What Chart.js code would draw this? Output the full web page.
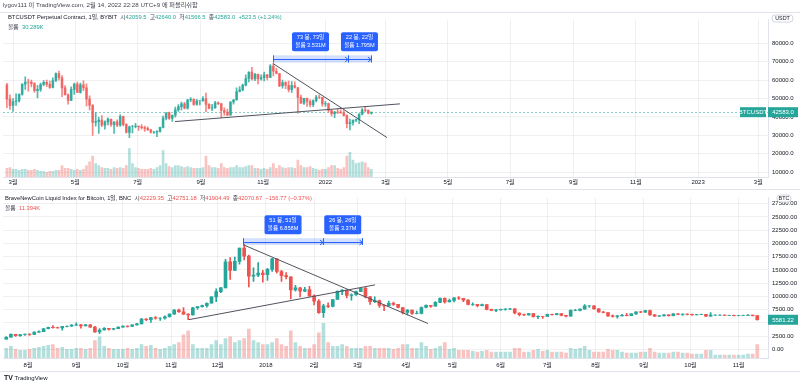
<!DOCTYPE html>
<html><head><meta charset="utf-8">
<script src="https://cdn.jsdelivr.net/npm/chart.js@4.4.0/dist/chart.umd.min.js"></script>
<style>
body{margin:0;background:#fff;width:800px;height:384px;overflow:hidden;position:relative;font-family:"Liberation Sans","Noto Sans CJK KR",sans-serif;}
canvas{position:absolute;left:0;}
.t{position:absolute;white-space:nowrap;font-size:5.8px;color:#131722;line-height:8px;}
.g{color:#434651}.up{color:#26a69a}.dn{color:#ef5350}
.hl{position:absolute;left:0;width:800px;height:1px;background:#e0e3eb;}
</style></head><body>
<canvas id="c1" width="800" height="178" style="top:12px"></canvas>
<canvas id="c2" width="800" height="182" style="top:190px"></canvas>
<div class="hl" style="top:12px"></div>
<div class="hl" style="top:189px"></div>
<div class="hl" style="top:371px"></div>
<div class="t g" style="left:3px;top:1px;font-size:6.2px">lygov111 이 TradingView.com, 2월 14, 2022 22:28 UTC+9 에 퍼블리쉬함</div>
<div class="t" style="left:8px;top:13px">BTCUSDT Perpetual Contract, 1일, BYBIT&nbsp; <span class="g">시</span><span class="up">42059.5</span>&nbsp; <span class="g">고</span><span class="up">42640.0</span>&nbsp; <span class="g">저</span><span class="up">41566.5</span>&nbsp; <span class="g">종</span><span class="up">42583.0</span>&nbsp; <span class="up">+523.5 (+1.24%)</span></div>
<div class="t" style="left:8px;top:23px"><span class="g">볼륨</span>&nbsp; <span class="up">30.289K</span></div>
<div class="t" style="left:5px;top:194px">BraveNewCoin Liquid Index for Bitcoin, 1일, BNC&nbsp; <span class="g">시</span><span class="dn">42229.35</span>&nbsp; <span class="g">고</span><span class="dn">42751.18</span>&nbsp; <span class="g">저</span><span class="dn">41904.49</span>&nbsp; <span class="g">종</span><span class="dn">42070.67</span>&nbsp; <span class="dn">−156.77 (−0.37%)</span></div>
<div class="t" style="left:5px;top:204px"><span class="g">볼륨</span>&nbsp; <span class="dn">11.394K</span></div>
<div class="t" style="left:4px;top:374px;font-size:6px"><b style="font-size:7px">TV</b> TradingView</div>
<script>
// ---------- top pane: BTCUSDT 3-day candles from 2021-02-22 (day 0 = 2021-03-01) ----------
const topOpen=[57500,49700,46300,48400,48800,52400,57800,59000,58900,58100,
54300,55000,57600,58800,57700,56000,59800,63500,61300,55800,
52000,49000,55000,57800,53300,57400,55800,49700,46400,37000,
37500,38300,35600,37300,38800,35800,37300,35500,40200,35800,
31600,34700,34700,35000,34700,34200,33800,33000,31800,31800,
32100,34300,39400,42200,39200,40900,43800,45600,47100,44700,
49300,49500,46800,48800,48800,49900,46800,44800,44900,47700,
47200,43500,42700,41000,48100,49200,53800,54700,57300,60900,
64300,60700,63100,60600,61300,62900,61500,67600,64800,63600,
56900,58600,57200,54800,57000,56000,50600,47500,50100,48400,
46700,48900,50800,50700,47100,47300,43500,41800,42700,42600,
42200,40700,36300,36900,38200,38700,41500,43800,43600,42059.5];
const topHigh=[58300,52000,50000,52600,52400,58000,61800,60600,60000,58600,
57200,58400,59800,60000,59500,61200,64000,64900,62500,57000,
52500,56300,58400,59000,58400,59600,58000,51500,46600,42400,
39900,40800,37900,39500,38800,37300,38400,41300,40500,36400,
35000,35500,36600,35000,35900,35100,34600,33300,32200,32600,
34500,40500,42300,42600,41200,45300,46700,48100,48000,49400,
50500,49800,49600,48900,51000,52900,47300,46800,48500,48200,
47300,45000,44300,48400,49500,55800,56500,57800,62900,64500,
67000,63700,63300,62900,64300,63100,68500,69000,66400,63600,
60000,59200,59500,59200,59100,56000,51900,50100,50200,49400,
49300,51800,52000,50700,48500,47500,43700,43000,44400,43800,
43500,41100,38900,38500,38800,41700,44500,45800,43900,42640];
const topLow=[45000,44100,43000,46300,48000,51800,54900,54000,56300,53300,
50400,53900,57000,56500,55500,55800,59200,60000,51000,52000,
47000,48800,52300,53200,52900,54300,46000,43800,30000,35000,
31100,34700,33400,35700,34800,31000,34700,34800,35100,31300,
28800,31300,34100,32700,33300,32100,32700,31200,31100,29300,
31700,34000,38400,38700,37600,39900,43000,43800,44400,44200,
48300,46300,46400,46500,48400,42800,44400,43400,44700,46700,
39600,40800,40800,40900,47000,49100,53600,54200,56900,59000,
60000,59700,58000,60000,59500,60100,61300,62300,63400,56500,
55600,55300,53600,53300,55600,42000,47400,46800,45700,45500,
45600,48100,49900,45800,45700,42600,40600,39600,41800,42000,
40600,34000,32900,35600,37400,36300,41100,42700,41700,41566.5];
const topClose=[49700,46300,48400,48800,52400,57800,59000,58900,58100,54300,
55000,57600,58800,57700,56000,59800,63500,61300,55800,52000,
49000,55000,57800,53300,57400,55800,49700,46400,37000,37500,
38300,35600,37300,38800,35800,37300,35500,40200,35800,31600,
34700,34700,35000,34700,34200,33800,33000,31800,31800,32100,
34300,39400,42200,39200,40900,43800,45600,47100,44700,49300,
49500,46800,48800,48800,49900,46800,44800,44900,47700,47200,
43500,42700,41000,48100,49200,53800,54700,57300,60900,64300,
60700,63100,60600,61300,62900,61500,67600,64800,63600,56900,
58600,57200,54800,57000,56000,50600,47500,50100,48400,46700,
48900,50800,50700,47100,47300,43500,41800,42700,42600,42200,
40700,36300,36900,38200,38700,41500,43800,43600,42100,42583];
const topVolumeK=[40,44,35,35,31,35,35,31,31,35,31,26,26,
22,26,26,31,31,53,40,40,35,31,
35,31,35,53,70,97,62,53,44,40,
40,35,44,40,44,40,53,132,62,44,
40,35,35,35,40,35,44,53,123,62,
48,44,53,53,48,44,48,44,40,40,
40,44,97,53,44,44,40,62,44,40,
44,44,53,44,44,48,53,53,40,40,
35,40,35,44,62,40,53,44,40,44,
44,40,79,53,44,44,48,40,35,31,
35,35,44,53,53,40,35,44,97,114,
79,62,66,70,66,44,35];
const topFirstDay=-6, candleStepDays=3;
const topTickDays=[0,61,122,184,245,306,365,426,487,549,610,671,730];
const topTickLabels=["3월","5월","7월","9월","11월","2022","3월","5월","7월","9월","11월","2023","3월"];
const topPriceTicks=[10000,20000,30000,40000,50000,60000,70000,80000];
const topTrendDown=[{x:254.7,y:69000},{x:366.3,y:28800}];
const topTrendUp=[{x:158.7,y:37500},{x:379,y:47100}];
const topRange={from:254.7,mid:328.1,to:350.6,top:73440,bottom:69530,
  labels:[["73 봉, 73일","볼륨 3.531M"],["22 봉, 22일","볼륨 1.795M"]]};

// ---------- bottom pane: BLX 3-day candles from 2017-07-17 (day 0 = 2017-08-01) ----------
const blxOpen=[1930,2270,2830,2560,2790,2870,2790,3230,3350,3880,
4170,4100,4030,4330,4350,4580,4600,4400,4600,4200,
3300,3650,3950,3800,3920,4180,4400,4300,4600,4800,
5700,5600,6000,5900,5900,6150,6650,7400,7100,6650,
6500,7850,8050,8250,8700,9900,10900,11600,16500,14900,
16600,19100,17600,13800,14000,14400,14100,15100,17100,14700,
13900,13700,11200,11600,11000,11300,10100,9100,6900,8200,
8100,9400,11000,11200,10200,10300,10900,11500,9900,9000,
9200,8300,8200,8700,8500,7900,6950,7400,6800,6800,
7900,8300,8150,8850,9650,8950,9250,9700,9650,9300,
8500,8500,8250,8450,7550,7350,7450,7550,7600,7650,
6850,6550,6500,6750,6150,6250,6200,6600,6550,6750,
6400,6250,7350,7350,7600,8200,8200,7650,7050,6950,
6300,6200,6300,6400,6350,6700,7100,7000,7300,6500,
6250,6300,6500,6350,6700,6600,6650,6600,6500,6580,
6600,6250,6450,6450,6450,6420,6420,6330,6380,6400,
6450,6350];
const blxHigh=[2400,2900,2830,2800,2890,2900,3300,3500,3950,4200,
4480,4200,4350,4450,4650,4980,4700,4700,4650,4350,
3900,4100,3950,3950,4250,4420,4420,4600,4900,5850,
5800,6050,6200,5950,6300,6700,7500,7600,7880,6700,
7950,8100,8350,8800,9950,11400,11700,17000,17300,17400,
19100,19800,17800,15400,16400,14900,15300,17200,17100,14900,
14500,13700,12100,11700,11700,11900,10300,9400,8500,8800,
9400,11000,11300,11200,10500,11000,11500,11700,10000,9900,
9300,8400,9100,8900,8500,7900,7500,7400,7200,8000,
8400,8300,9000,9700,9700,9500,9750,9950,9650,9400,
8800,8500,8550,8450,7600,7550,7600,7700,7750,7700,
6900,6650,6800,6800,6300,6250,6650,6650,6800,6750,
6400,7450,7550,7650,8450,8250,8250,7700,7150,6950,
6500,6400,6600,6800,6750,7100,7150,7350,7400,6550,
6400,6550,6550,6750,6750,6700,6700,6650,6600,6650,
6600,6950,6500,6500,6500,6450,6450,6400,6450,6550,
6450,6400];
const blxLow=[1900,2250,2450,2450,2620,2620,2780,3200,3340,3850,
4000,3980,3600,4250,4300,4500,4000,4400,4150,3200,
2950,3600,3600,3650,3900,4180,4200,4300,4550,4800,
5400,5100,5700,5450,5700,6050,6650,6950,6600,5600,
6450,7600,7950,7950,8700,9000,10700,11600,13200,14900,
16100,16900,11800,12800,13700,12700,13000,14700,14400,12800,
13300,9500,11000,9900,10900,10000,8400,6800,6000,7850,
8000,9400,10300,9700,9300,10200,10900,9700,8500,8800,
7900,7300,8200,8300,7800,6700,6500,6600,6700,6700,
7800,7900,8150,8800,8700,8950,8950,9400,9000,8400,
8300,8000,8200,7450,7300,7100,7400,7400,7550,6700,
6300,6350,6450,6050,5800,5850,6200,6450,6500,6300,
6100,6250,7300,7250,7600,7900,7600,6950,6850,6200,
6050,5900,6300,6300,6350,6600,6900,6950,6400,6200,
6200,6300,6250,6300,6550,6400,6500,6450,6500,6550,
6150,6250,6400,6400,6400,6380,6300,6300,6330,6380,
6300,5500];
const blxClose=[2270,2830,2560,2790,2870,2790,3230,3350,3880,4170,
4100,4030,4330,4350,4580,4600,4400,4600,4200,3300,
3650,3950,3800,3920,4180,4400,4300,4600,4800,5700,
5600,6000,5900,5900,6150,6650,7400,7100,6650,6500,
7850,8050,8250,8700,9900,10900,11600,16500,14900,16600,
19100,17600,13800,14000,14400,14100,15100,17100,14700,13900,
13700,11200,11600,11000,11300,10100,9100,6900,8200,8100,
9400,11000,11200,10200,10300,10900,11500,9900,9000,9200,
8300,8200,8700,8500,7900,6950,7400,6800,6800,7900,
8300,8150,8850,9650,8950,9250,9700,9650,9300,8500,
8500,8250,8450,7550,7350,7450,7550,7600,7650,6850,
6550,6500,6750,6150,6250,6200,6600,6550,6750,6400,
6250,7350,7350,7600,8200,8200,7650,7050,6950,6300,
6200,6300,6400,6350,6700,7100,7000,7300,6500,6250,
6300,6500,6350,6700,6600,6650,6600,6500,6580,6600,
6250,6450,6450,6450,6420,6420,6330,6380,6400,6450,
6350,5581.22];
const blxVolumeK=[80,96,72,64,64,72,80,88,96,104,112,80,88,72,72,
80,80,72,80,144,176,96,80,72,72,
72,80,72,80,112,96,104,80,72,80,
96,112,128,192,224,112,80,80,80,112,
144,112,160,176,128,144,160,240,144,128,112,
112,128,160,112,96,224,128,96,80,80,112,
208,288,128,96,96,112,96,80,80,80,
96,96,80,80,80,80,72,80,112,112,
80,80,128,96,72,80,96,128,72,80,
64,64,64,56,48,56,64,48,48,48,
48,48,80,80,48,48,64,72,56,64,
48,48,48,40,80,72,80,96,64,48,
48,48,72,64,64,48,40,40,40,48,
48,80,48,40,40,40,48,48,40,40,
32,32,32,64,64,24,24,24,24,24,
24,24,32,32,112];
const blxFirstDay=-14;
const blxTickDays=[0,31,61,92,122,153,184,212,243,273,304,334,365,396,426,457];
const blxTickLabels=["8월","9월","10월","11월","12월","2018","2월","3월","4월","5월","6월","7월","8월","9월","10월","11월"];
const blxPriceTicks=[0,2500,5000,7500,10000,12500,15000,17500,20000,22500,25000,27500];
const blxTrendDown=[{x:138.3,y:19760},{x:257.2,y:4870}];
const blxTrendUp=[{x:103.5,y:5600},{x:223.2,y:12170}];
const blxRange={from:138.3,mid:189.7,to:215.1,top:20985,bottom:19700,
  labels:[["51 봉, 51일","볼륨 6.858M"],["26 봉, 26일","볼륨 3.37M"]]};

// ---------- rendering ----------
const FONT='"Liberation Sans","Noto Sans CJK KR",sans-serif';
Chart.defaults.font.family=FONT;
Chart.defaults.font.size=6;
Chart.defaults.color='#131722';
const GRID='rgba(42,46,57,0.07)';

function candles(O,H,L,C,V,first,step,upC,dnC,upV,dnV){
  const r={wick:[],body:[],vol:[],bc:[],vc:[]};
  for(let i=0;i<O.length;i++){
    const x=first+step*i, up=C[i]>=O[i];
    r.wick.push({x:x,y:[L[i],H[i]]});
    r.body.push({x:x,y:[O[i],C[i]]});
    r.vol.push({x:x,y:V[i]});
    r.bc.push(up?upC:dnC);
    r.vc.push(up?upV:dnV);
  }
  return r;
}
function rr(ctx,x,y,w,h,r){ctx.beginPath();ctx.moveTo(x+r,y);ctx.lineTo(x+w-r,y);ctx.quadraticCurveTo(x+w,y,x+w,y+r);ctx.lineTo(x+w,y+h-r);ctx.quadraticCurveTo(x+w,y+h,x+w-r,y+h);ctx.lineTo(x+r,y+h);ctx.quadraticCurveTo(x,y+h,x,y+h-r);ctx.lineTo(x,y+r);ctx.quadraticCurveTo(x,y,x+r,y);ctx.closePath();}
function tvPlugin(cfg){
  return {id:'tv'+cfg.id,
    beforeDatasetsDraw(chart){
      if(cfg.priceLine==null) return;
      const ctx=chart.ctx,a=chart.chartArea,y=Math.round(chart.scales.y.getPixelForValue(cfg.priceLine))+0.5;
      ctx.save();ctx.strokeStyle='rgba(38,166,154,0.55)';ctx.setLineDash([2,2]);ctx.lineWidth=1;
      ctx.beginPath();ctx.moveTo(a.left,y);ctx.lineTo(a.right,y);ctx.stroke();ctx.restore();
    },
    afterDraw(chart){
      const ctx=chart.ctx,xs=chart.scales.x,ys=chart.scales.y,a=chart.chartArea;
      ctx.save();
      // date range tool
      const R=cfg.range;
      const x1=xs.getPixelForValue(R.from),xm=xs.getPixelForValue(R.mid),x2=xs.getPixelForValue(R.to);
      const yT=ys.getPixelForValue(R.top),yB=ys.getPixelForValue(R.bottom),yc=Math.round((yT+yB)/2)+0.5;
      ctx.fillStyle='rgba(41,98,255,0.2)';ctx.fillRect(x1,yT,x2-x1,yB-yT);
      ctx.strokeStyle='#2962ff';ctx.lineWidth=1;
      ctx.beginPath();ctx.moveTo(x1,yc);ctx.lineTo(x2,yc);
      [x1,xm,x2].forEach(function(x){x=Math.round(x)+0.5;ctx.moveTo(x,yT);ctx.lineTo(x,yB);});
      [xm,x2].forEach(function(x){ctx.moveTo(x-3,yc-2.5);ctx.lineTo(x,yc);ctx.lineTo(x-3,yc+2.5);});
      ctx.stroke();
      const segs=[[x1,xm],[xm,x2]];
      ctx.font='5.6px '+FONT;ctx.textAlign='center';ctx.textBaseline='middle';
      segs.forEach(function(s,k){
        const cx=(s[0]+s[1])/2,w=37,h=19,by=yT-4-h;
        ctx.fillStyle='#2962ff';rr(ctx,cx-w/2,by,w,h,2);ctx.fill();
        ctx.fillStyle='#fff';ctx.fillText(R.labels[k][0],cx,by+5.5);ctx.fillText(R.labels[k][1],cx,by+13.5);
      });
      // last price labels
      const py=ys.getPixelForValue(cfg.lastPrice);
      ctx.font='6px '+FONT;
      ctx.fillStyle='#26a69a';ctx.fillRect(a.right,py-5,30,10);
      ctx.fillStyle='#fff';ctx.fillText(cfg.lastText,a.right+15,py+0.5);
      if(cfg.symbol){ctx.fillStyle='#26a69a';ctx.fillRect(a.right-28,py-5,26,10);ctx.fillStyle='#fff';ctx.fillText(cfg.symbol,a.right-15,py+0.5);}
      // currency pill
      const p=cfg.pill;
      ctx.fillStyle='#fff';ctx.strokeStyle='#d1d4dc';rr(ctx,p.x,p.y,p.w,7,3);ctx.fill();ctx.stroke();
      ctx.fillStyle='#131722';ctx.font='5.4px '+FONT;ctx.fillText(p.text,p.x+p.w/2,p.y+3.8);
      ctx.restore();
    }};
}
function makeChart(id,d,o){
  return new Chart(document.getElementById(id),{
    type:'bar',
    data:{datasets:[
      {type:'line',data:o.trendA,borderColor:'#50535e',borderWidth:1,pointRadius:0,order:0,yAxisID:'y'},
      {type:'line',data:o.trendB,borderColor:'#50535e',borderWidth:1,pointRadius:0,order:0,yAxisID:'y'},
      {type:'bar',data:d.body,backgroundColor:d.bc,barThickness:o.bodyW,grouped:false,order:1,yAxisID:'y'},
      {type:'bar',data:d.wick,backgroundColor:d.bc,barThickness:1,grouped:false,order:2,yAxisID:'y'},
      {type:'bar',data:d.vol,backgroundColor:d.vc,barThickness:o.volW,grouped:false,order:3,yAxisID:'v'}
    ]},
    options:{responsive:false,animation:false,devicePixelRatio:1,
      layout:{padding:{left:3,top:o.padTop,right:0,bottom:0}},
      plugins:{legend:{display:false},tooltip:{enabled:false}},
      scales:{
        x:{type:'linear',min:o.xmin,max:o.xmax,offset:false,
          grid:{color:GRID,drawTicks:false,offset:false},border:{color:'#e0e3eb'},
          ticks:{autoSkip:false,maxRotation:0,padding:o.xPad,color:'#131722',callback:function(v,i){return o.tickLabels[i];}},
          afterBuildTicks:function(s){s.ticks=o.tickDays.map(function(v){return {value:v};});},
          afterFit:function(s){s.height=o.xH;}},
        y:{position:'right',min:o.ymin,max:o.ymax,
          grid:{color:GRID,drawTicks:false},border:{color:'#e0e3eb'},
          ticks:{autoSkip:false,padding:4,color:'#131722',callback:function(v){return v.toFixed(o.dec);}},
          afterBuildTicks:function(s){s.ticks=o.priceTicks.map(function(v){return {value:v};});},
          afterFit:function(s){s.width=32;}},
        v:{axis:'y',position:'left',display:false,min:0,max:o.vmax}
      }},
    plugins:[tvPlugin(o.extra)]
  });
}
const dTop=candles(topOpen,topHigh,topLow,topClose,topVolumeK,topFirstDay,candleStepDays,
  'rgba(38,166,154,0.8)','rgba(239,83,80,0.7)','rgba(38,166,154,0.35)','rgba(239,83,80,0.35)');
makeChart('c1',dTop,{trendA:topTrendDown,trendB:topTrendUp,bodyW:2,volW:2,padTop:1,
  xmin:-9.8,xmax:739.5,xPad:2,xH:13,tickDays:topTickDays,tickLabels:topTickLabels,
  ymin:7394,ymax:92860,priceTicks:topPriceTicks,dec:1,vmax:730,
  extra:{id:1,priceLine:42583,range:topRange,lastPrice:42583,lastText:'42583.0',symbol:'BTCUSDT',pill:{x:772,y:3,w:21,text:'USDT'}}});
const dBot=candles(blxOpen,blxHigh,blxLow,blxClose,blxVolumeK,blxFirstDay,candleStepDays,
  '#26a69a','#ef5350','rgba(38,166,154,0.35)','rgba(239,83,80,0.35)');
makeChart('c2',dBot,{trendA:blxTrendDown,trendB:blxTrendUp,bodyW:3,volW:3,padTop:2,
  xmin:-16.1,xmax:475.9,xPad:4,xH:14,tickDays:blxTickDays,tickLabels:blxTickLabels,
  ymin:-1642,ymax:28650,priceTicks:blxPriceTicks,dec:2,vmax:1328,
  extra:{id:2,priceLine:null,range:blxRange,lastPrice:5581.22,lastText:'5581.22',symbol:null,pill:{x:777,y:5,w:14,text:'BTC'}}});
</script>
</body></html>
